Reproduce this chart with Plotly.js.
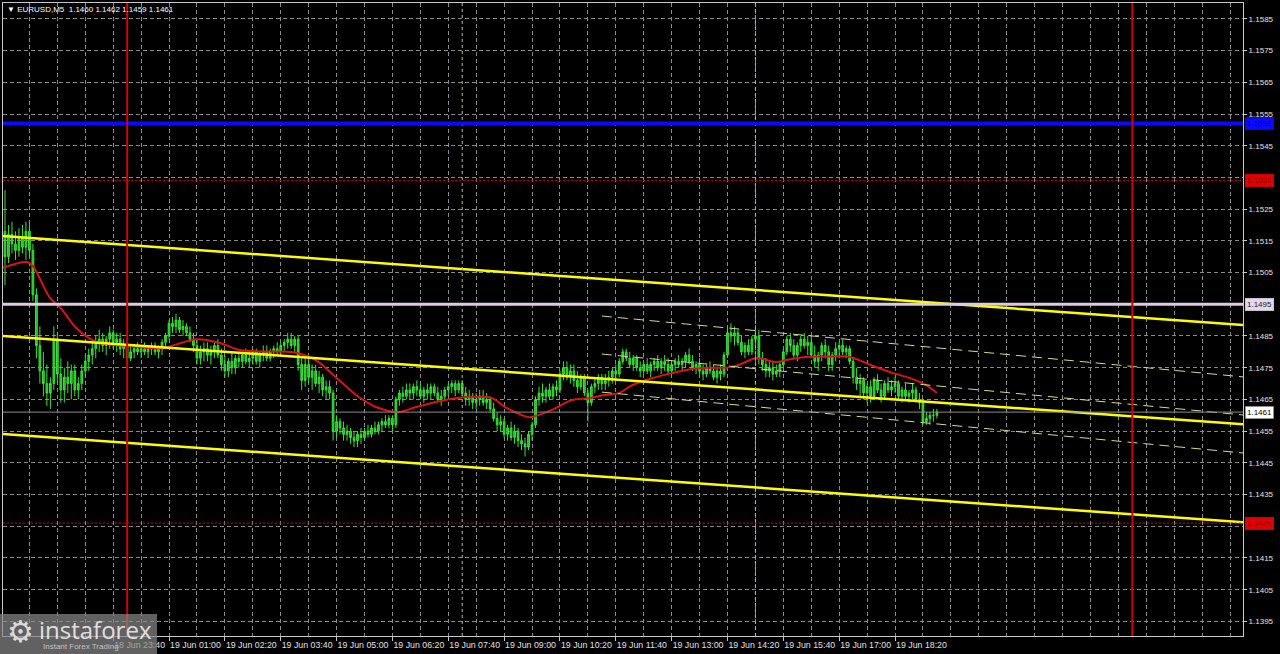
<!DOCTYPE html>
<html><head><meta charset="utf-8">
<script src="https://cdn.plot.ly/plotly-3.0.1.min.js"></script>
<style>html,body{margin:0;padding:0;background:#000;}#chart{width:1280px;height:654px;}</style>
</head><body><div id="chart"></div>
<script>
// ---------- data ----------
const symbolTitle = "\u25BC EURUSD,M5\u00a0\u00a01.1460 1.1462 1.1459 1.1461";
const startTime = "2025-06-18T21:00:00Z";   // time of bar 0
const barMinutes = 5;
const pipBase = 1.1400;                       // prices stored as pips above this base

const openP = [
110,118,110,117,114,112,116,113,118,112,
98,82,74,70,67,70,84,73,68,72,
70,74,68,70,74,77,79,81,83,84,
82,84,86,83,84,81,82,78,80,81,
80,81,80,81,82,80,81,83,85,89,
88,90,87,88,86,84,82,78,80,81,
79,80,82,79,76,74,77,75,78,77,
79,77,78,80,77,79,80,78,80,81,
80,82,83,84,82,84,76,71,76,72,
74,70,72,68,69,67,55,58,56,54,
55,53,52,54,53,55,54,56,55,57,
58,57,59,57,65,67,66,68,67,69,
68,66,68,67,69,67,65,66,68,69,
70,68,70,67,65,66,64,65,66,64,
65,62,59,57,58,54,56,53,55,52,
51,50,54,57,65,67,66,68,66,69,
68,73,75,72,74,71,69,72,67,64,
69,70,72,70,71,72,74,73,77,80,
78,76,78,75,74,76,74,76,77,75,
77,76,74,76,77,76,77,79,77,75,
76,74,73,75,74,72,74,73,79,86,
85,86,83,80,82,80,84,85,78,76,
74,75,73,74,76,80,84,82,79,82,
84,82,83,79,77,79,82,80,76,79,
81,82,80,81,77,72,70,71,67,69,
66,71,68,66,70,68,69,70,66,68,
66,67,68,65,64,58,59,60,60];
const highP = [
122,131,120,121,118,119,120,121,121,114,
100,88,80,76,72,88,86,78,75,77,
76,76,72,76,79,81,83,85,87,86,
85,88,87,86,86,84,83,82,82,83,
82,83,82,83,83,82,84,86,90,91,
92,91,90,89,88,86,84,82,83,83,
82,83,84,81,79,78,80,79,80,80,
81,80,81,81,80,82,82,81,82,83,
83,84,86,86,85,85,78,78,78,76,
76,74,73,71,71,68,60,59,58,57,
56,55,55,56,56,57,57,58,58,59,
60,60,60,66,68,69,70,70,70,71,
70,69,70,70,70,69,68,69,70,71,
71,71,71,69,68,67,67,68,68,67,
66,64,61,60,59,57,58,57,56,54,
53,55,58,66,69,70,69,70,70,71,
74,77,77,76,76,74,73,73,68,70,
72,73,73,73,74,75,76,78,81,81,
80,79,79,77,77,78,77,78,79,78,
79,78,77,78,79,78,80,81,79,77,
78,76,76,77,76,75,76,80,88,89,
88,87,85,83,84,85,87,87,80,78,
77,77,76,77,81,85,86,84,83,85,
86,85,85,82,80,83,84,82,80,83,
83,84,82,82,78,75,73,72,70,71,
72,73,70,71,72,71,72,71,69,70,
68,70,69,67,65,61,61,62,62];
const lowP = [
106,101,108,111,109,110,111,109,110,96,
78,70,66,63,62,68,70,64,64,67,
65,66,65,68,72,74,76,78,80,80,
79,81,81,80,79,78,76,77,78,79,
78,79,78,79,79,78,79,81,84,86,
86,86,85,85,83,80,76,76,77,77,
76,78,78,74,72,72,73,73,75,75,
76,75,76,76,75,77,77,77,78,79,
79,80,81,81,80,74,68,69,70,68,
69,67,66,65,65,52,53,54,52,52,
51,50,50,51,52,53,53,54,54,55,
56,56,55,56,63,64,65,65,65,66,
65,64,65,65,66,64,63,65,66,67,
66,67,66,63,63,62,62,63,63,62,
61,58,55,55,53,52,52,51,50,49,
47,49,52,56,63,64,64,65,65,66,
67,71,71,70,69,67,68,66,58,63,
67,68,68,68,69,70,71,72,76,77,
75,74,74,72,73,73,72,74,74,73,
74,73,73,74,75,74,75,76,74,73,
73,71,72,73,71,70,71,72,78,83,
82,82,79,78,79,79,82,76,74,72,
72,71,72,72,75,79,80,78,77,80,
81,79,78,75,74,77,78,74,74,77,
78,79,78,76,70,68,66,65,64,64,
65,67,64,65,67,66,67,65,64,65,
64,65,64,62,57,57,57,58,59];
const closeP = [
118,110,117,114,112,116,113,118,112,98,
82,74,70,67,70,84,73,68,72,70,
74,68,70,74,77,79,81,83,84,82,
84,86,83,84,81,82,78,80,81,80,
81,80,81,82,80,81,83,85,89,88,
90,87,88,86,84,82,78,80,81,79,
80,82,79,76,74,77,75,78,77,79,
77,78,80,77,79,80,78,80,81,80,
82,83,84,82,84,76,71,76,72,74,
70,72,68,69,67,55,58,56,54,55,
53,52,54,53,55,54,56,55,57,58,
57,59,57,65,67,66,68,67,69,68,
66,68,67,69,67,65,66,68,69,70,
68,70,67,65,66,64,65,66,64,65,
62,59,57,58,54,56,53,55,52,51,
50,54,57,65,67,66,68,66,69,68,
73,75,72,74,71,69,72,67,64,69,
70,72,70,71,72,74,73,77,80,78,
76,78,75,74,76,74,76,77,75,77,
76,74,76,77,76,77,79,77,75,76,
74,73,75,74,72,74,73,79,86,85,
86,83,80,82,80,84,85,78,76,74,
75,73,74,76,80,84,82,79,82,84,
82,83,79,77,79,82,80,76,79,81,
82,80,81,77,72,70,71,67,69,66,
71,68,66,70,68,69,70,66,68,66,
67,68,65,64,58,59,60,60,61];

// moving average (red), read at sample bars
const maBar  = [0.4,7.3,9,13.9,16.8,21,24.5,28.2,36,46.8,49.7,56,62.6,68.3,81.5,84.4,90,95.8,101.6,107.3,113.6,118.8,124.5,130.2,136,140.5,144.3,149.2,151.4,157.7,163.5,168.3,172.9,176.9,180.7,186.4,192.1,197.9,203.6,207.6,211.3,216.2,221.9,224.8,230.5,236.2,243.1,248.9,254.6,260.3,264.9,268];
const maPips = [106.5,108.3,107,97,94,88,84.7,82.8,81.9,81.2,82.2,84,82.8,80.6,80,79.7,77.4,72,66.4,62.6,61,62.6,64.2,65.4,65.8,65.4,62.6,60,59.4,61.7,64.8,65.4,66.4,67,69.5,71.7,73.3,74.6,75,75,75.9,78,76.8,77.4,78.4,78.5,78.4,75.9,73.6,71.7,69.5,67];

// horizontal levels
const levelPrices = [1.1552, 1.1534, 1.1495, 1.1461, 1.1426];
const levelLabels = ["1.1552", "1.1534", "1.1495", "1.1461", "1.1426"];

// price-axis labels (those hidden behind level labels are left out) and time-axis label bars
const priceTicks = [1.1395,1.1405,1.1415,1.1435,1.1445,1.1455,1.1465,1.1475,1.1485,1.1505,1.1515,1.1525,1.1545,1.1555,1.1565,1.1575,1.1585];
const timeTickBars = [32,48,64,80,96,112,128,144,160,176,192,208,224,240,256];

// trend channel (yellow), endpoints in bars / pips
const trendBars  = [0.43, 355.7];
const trendUpper = [116.5, 88.5];
const trendMid   = [85.0, 57.2];
const trendLower = [54.1, 26.3];
// std-dev channel (dashed)
const stdBars  = [172, 355.7];
const stdUpper = [91.3, 72.1];
const stdMid   = [79.3, 60.1];
const stdLower = [67.3, 48.1];

const daySepBars  = [36, 324];    // 00:00 lines
const sessionBars = [132, 216];   // 08:00 and 15:00
const viewBars = [0.43, 355.7];

// ---------- helpers ----------
const t0 = Date.parse(startTime);
function tm(b){ return new Date(t0 + b*barMinutes*60000).toISOString().replace('T',' ').slice(0,19); }
function px(v){ return +(pipBase + v/10000).toFixed(5); }

const bars = closeP.map((_, i) => tm(i));
const grid = '#8a8a8a';
const axisCol = '#c8c8c8';

const traces = [
  {type:'candlestick', x: bars, open: openP.map(px), high: highP.map(px), low: lowP.map(px), close: closeP.map(px),
   increasing:{line:{color:'#3ae23a', width:1}, fillcolor:'#26b826'},
   decreasing:{line:{color:'#3ae23a', width:1}, fillcolor:'#26b826'},
   whiskerwidth:0, hoverinfo:'skip', showlegend:false},
  {type:'scatter', mode:'lines', x: maBar.map(tm), y: maPips.map(px), line:{color:'#d81414', width:2, shape:'spline'}, hoverinfo:'skip'},
];
[trendUpper, trendMid, trendLower].forEach(a => traces.push(
  {type:'scatter', mode:'lines', x: trendBars.map(tm), y: a.map(px), line:{color:'#ffff00', width:2.5}, hoverinfo:'skip'}));
[stdUpper, stdMid, stdLower].forEach(a => traces.push(
  {type:'scatter', mode:'lines', x: stdBars.map(tm), y: a.map(px), line:{color:'#d8d890', width:1, dash:'10px,6px'}, hoverinfo:'skip'}));

const levelStyle = [
  {color:'#0a0aff', width:4, dash:'solid', bg:'#0a0aff', fg:'#0000b0'},
  {color:'#d00000', width:1, dash:'2px,2px', bg:'#e00000', fg:'#900000'},
  {color:'#dccce0', width:3, dash:'solid', bg:'#e4d8ea', fg:'#202020'},
  {color:'#8c8c8c', width:1, dash:'solid', bg:'#ffffff', fg:'#000000'},
  {color:'#d00000', width:1, dash:'2px,2px', bg:'#e00000', fg:'#900000'},
];

const shapes = [];
const annotations = [];
sessionBars.forEach(b => shapes.push({type:'line', xref:'x', yref:'paper', x0:tm(b), x1:tm(b), y0:0, y1:1,
  line:{color:'#b8c070', width:1, dash:'3px,3px'}}));
levelPrices.forEach((p, i) => {
  const s = levelStyle[i];
  shapes.push({type:'line', xref:'paper', yref:'y', x0:0, x1:1, y0:p, y1:p, line:{color:s.color, width:s.width, dash:s.dash}});
  annotations.push({xref:'paper', yref:'y', x:1, y:p, xanchor:'left', yanchor:'middle', xshift:2, showarrow:false,
    text:levelLabels[i], bgcolor:s.bg, borderpad:1.5, bordercolor: i===3 ? '#606060' : s.bg, borderwidth: 0.5,
    font:{size:8, color:s.fg, family:'Liberation Sans, Arial, sans-serif'}});
});
daySepBars.forEach(b => shapes.push({type:'line', xref:'x', yref:'paper', x0:tm(b), x1:tm(b), y0:0, y1:1,
  line:{color:'#d40000', width:2}}));

// logo box
shapes.push({type:'rect', xref:'paper', yref:'paper', x0:-0.0025, x1:0.1242, y0:-0.0284, y1:0.0348,
  fillcolor:'rgba(135,135,135,0.72)', line:{width:0}, layer:'above'});

annotations.push(
  {xref:'paper', yref:'paper', x:0.0016, y:0.9905, xanchor:'left', yanchor:'middle', showarrow:false,
   text:symbolTitle, font:{size:8, color:'#ffffff', family:'Liberation Sans, Arial, sans-serif'}},
  {xref:'paper', yref:'paper', x:0.0145, y:0.0075, xanchor:'center', yanchor:'middle', showarrow:false,
   text:'\u2699', font:{size:30, color:'rgba(235,235,235,0.9)', family:'DejaVu Sans'}},
  {xref:'paper', yref:'paper', x:0.0275, y:0.0095, xanchor:'left', yanchor:'middle', showarrow:false,
   text:'instaforex', font:{size:24, color:'rgba(240,240,240,0.9)', family:'Open Sans, Liberation Sans, sans-serif'}},
  {xref:'paper', yref:'paper', x:0.031, y:-0.0165, xanchor:'left', yanchor:'middle', showarrow:false,
   text:'Instant Forex Trading', font:{size:8, color:'rgba(210,210,210,0.9)', family:'Liberation Sans, Arial, sans-serif'}}
);

const layout = {
  width:1280, height:654, paper_bgcolor:'#000000', plot_bgcolor:'#000000',
  margin:{l:3, r:37, t:3, b:18}, showlegend:false,
  font:{family:'Liberation Sans, Arial, sans-serif', color:'#e0e0e0', size:8},
  xaxis:{type:'date', range:[tm(viewBars[0]), tm(viewBars[1])],
    tickmode:'array', tickvals: timeTickBars.map(tm),
    tickformat:'%d %b %H:%M', ticklabelposition:'outside right', tickangle:0,
    ticks:'outside', ticklen:4, tickcolor:axisCol, tickfont:{size:8.8, color:'#e0e0e0'},
    showgrid:true, gridcolor:grid, griddash:'4px,3px', gridwidth:1,
    minor:{tickmode:'linear', dtick:40*60000, tick0: tm(48), showgrid:true, gridcolor:grid, griddash:'4px,3px', gridwidth:1, ticks:''},
    showline:true, mirror:true, linecolor:axisCol, linewidth:1, zeroline:false,
    rangeslider:{visible:false}, fixedrange:true},
  yaxis:{side:'right', range:[1.13904, 1.15900], tickmode:'array', tickvals: priceTicks, tickformat:'.4f',
    ticks:'outside', ticklen:3, tickcolor:axisCol, tickfont:{size:8, color:'#e0e0e0'},
    showgrid:true, gridcolor:grid, griddash:'4px,3px', gridwidth:1,
    minor:{tickmode:'linear', tick0:1.1395, dtick:0.001, showgrid:true, gridcolor:grid, griddash:'4px,3px', gridwidth:1, ticks:''},
    showline:true, mirror:true, linecolor:axisCol, linewidth:1, zeroline:false, fixedrange:true},
  shapes, annotations
};
Plotly.newPlot('chart', traces, layout, {displayModeBar:false, staticPlot:true});
</script></body></html>
